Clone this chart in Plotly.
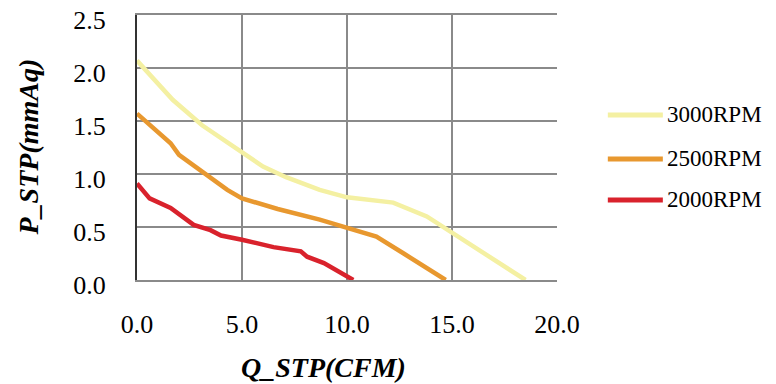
import plotly.graph_objects as go

q_3000 = [0.0, 1.7, 3.1, 5.0, 6.0, 7.1, 8.7, 10.0, 12.2, 13.8, 15.0, 18.5]
p_3000 = [2.07, 1.70, 1.46, 1.21, 1.07, 0.97, 0.85, 0.78, 0.73, 0.60, 0.45, 0.0]

q_2500 = [0.0, 1.6, 2.0, 3.3, 4.3, 5.0, 6.7, 8.7, 10.0, 11.4, 12.7, 13.6, 14.7]
p_2500 = [1.57, 1.29, 1.18, 1.00, 0.85, 0.77, 0.67, 0.57, 0.49, 0.41, 0.25, 0.14, 0.0]

q_2000 = [0.0, 0.6, 1.6, 2.7, 3.5, 4.0, 5.0, 6.5, 7.8, 8.1, 8.9, 10.3]
p_2000 = [0.91, 0.77, 0.68, 0.52, 0.47, 0.42, 0.38, 0.31, 0.27, 0.22, 0.16, 0.0]

series = [
    ("3000RPM", q_3000, p_3000, "#f4f0a2"),
    ("2500RPM", q_2500, p_2500, "#e8982f"),
    ("2000RPM", q_2000, p_2000, "#d9222c"),
]

font = "Liberation Serif, Times New Roman, serif"

fig = go.Figure()
for name, q, p, color in series:
    fig.add_trace(go.Scatter(x=q, y=p, name=name, mode="lines", showlegend=False,
                             line=dict(color=color, width=4.5)))

# hand-made legend to the right of the plot (longer sample lines than plotly's)
legend_y = [0.623, 0.457, 0.302]
for (name, q, p, color), ly in zip(series, legend_y):
    fig.add_shape(type="line", xref="paper", yref="paper",
                  x0=1.121, x1=1.252, y0=ly, y1=ly,
                  line=dict(color=color, width=5))
    fig.add_annotation(xref="paper", yref="paper", x=1.258, y=ly,
                       xanchor="left", yanchor="middle", showarrow=False,
                       text=name, font=dict(size=23, family=font, color="black"))

# axis titles
fig.add_annotation(xref="paper", yref="paper", x=0.445, y=0, yshift=-87,
                   xanchor="center", yanchor="middle", showarrow=False,
                   text="<b><i>Q_STP(CFM)</i></b>", font=dict(size=28, family=font, color="black"))
fig.add_annotation(xref="paper", yref="paper", x=0, y=0.5, xshift=-109,
                   xanchor="center", yanchor="middle", showarrow=False, textangle=-90,
                   text="<b><i>P_STP(mmAq)</i></b>", font=dict(size=28, family=font, color="black"))

fig.update_layout(
    width=776, height=384,
    margin=dict(l=129, r=227, t=7, b=112, autoexpand=False),
    paper_bgcolor="white", plot_bgcolor="white",
    font=dict(family=font, color="black"),
)
fig.update_xaxes(
    range=[0, 20], dtick=5, tickformat=".1f",
    showgrid=True, gridcolor="#8a8a8a", gridwidth=1.5,
    showline=True, linecolor="#8a8a8a", linewidth=2, mirror=True,
    zeroline=False, ticks="outside", ticklen=20, tickcolor="rgba(0,0,0,0)",
    tickfont=dict(size=26, family=font), ticklabeloverflow="allow",
)
fig.update_yaxes(
    range=[0, 2.5], dtick=0.5, tickformat=".1f",
    showgrid=True, gridcolor="#8a8a8a", gridwidth=1.5,
    showline=True, linecolor="#333333", linewidth=2,
    zeroline=False, ticks="outside", ticklen=24, tickcolor="rgba(0,0,0,0)",
    tickfont=dict(size=26, family=font), ticklabeloverflow="allow",
    ticklabelshift=5,
)

fig.write_html("out.html")
